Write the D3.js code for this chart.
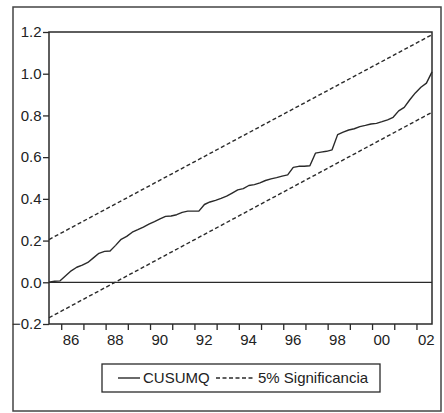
<!DOCTYPE html>
<html><head><meta charset="utf-8">
<script src="https://cdn.jsdelivr.net/npm/d3@7"></script>
<style>html,body{margin:0;padding:0;background:#fff;}svg{display:block;}</style>
</head><body>
<script>
// ---- data ----
const startYear = 1985.45;           // first quarterly observation position
const endYear = 2002.70;             // last observation position
const cusumq = [0.000,0.005,0.007,0.031,0.055,0.072,0.082,0.095,0.117,0.139,
0.148,0.150,0.177,0.206,0.220,0.240,0.252,0.265,0.279,0.291,
0.304,0.316,0.318,0.324,0.335,0.341,0.341,0.341,0.373,0.385,
0.393,0.402,0.413,0.428,0.443,0.449,0.464,0.468,0.477,0.488,
0.496,0.502,0.509,0.515,0.551,0.556,0.556,0.559,0.619,0.624,
0.628,0.635,0.708,0.720,0.730,0.736,0.746,0.752,0.759,0.762,
0.770,0.779,0.791,0.822,0.839,0.875,0.908,0.935,0.955,1.009];
const upperBand = [0.205, 1.187];    // 5% band, start and end
const lowerBand = [-0.170, 0.815];
const yTicks = [-0.2, 0.0, 0.2, 0.4, 0.6, 0.8, 1.0, 1.2];
const yearTicks = [1986,1987,1988,1989,1990,1991,1992,1993,1994,1995,1996,1997,1998,1999,2000,2001,2002];
const yearLabels = ["86","88","90","92","94","96","98","00","02"];
const labelYears = [1986,1988,1990,1992,1994,1996,1998,2000,2002];
const legendItems = ["CUSUMQ", "5% Significancia"];

// ---- layout ----
const W = 444, H = 413;
const svg = d3.select("body").append("svg").attr("width", W).attr("height", H);
const font = "'Liberation Sans', Arial, sans-serif";
const ink = "#2a2a2a";

const x = d3.scaleLinear().domain([startYear, endYear]).range([49, 432]);
const y = d3.scaleLinear().domain([-0.2, 1.2]).range([324, 32]);

// outer frame
svg.append("rect").attr("x", 13).attr("y", 7).attr("width", 428).attr("height", 404)
  .attr("fill", "none").attr("stroke", "#444").attr("stroke-width", 1.5);

const step = (endYear - startYear) / (cusumq.length - 1);
const pts = cusumq.map((v, i) => [startYear + i * step, v]);

// zero line
svg.append("line").attr("x1", x(startYear)).attr("x2", x(endYear))
  .attr("y1", y(0)).attr("y2", y(0)).attr("stroke", ink).attr("stroke-width", 1.3);

const line = d3.line().x(d => x(d[0])).y(d => y(d[1]));
// bands
[upperBand, lowerBand].forEach(b => {
  svg.append("path").attr("d", line([[startYear, b[0]], [endYear, b[1]]]))
    .attr("fill", "none").attr("stroke", ink).attr("stroke-width", 1.4)
    .attr("stroke-dasharray", "4,2.5");
});
// cusumq
svg.append("path").attr("d", line(pts)).attr("fill", "none")
  .attr("stroke", ink).attr("stroke-width", 1.4).attr("stroke-linejoin", "round");

// plot frame
svg.append("rect").attr("x", 49).attr("y", 32).attr("width", 383).attr("height", 292)
  .attr("fill", "none").attr("stroke", ink).attr("stroke-width", 1.5);

// y axis
const yAxis = d3.axisLeft(y).tickValues(yTicks).tickFormat(d3.format(".1f")).tickSize(6).tickSizeOuter(0);
const gy = svg.append("g").attr("transform", "translate(49,0)").call(yAxis);
gy.select(".domain").remove();
gy.selectAll("line").attr("stroke", ink).attr("stroke-width", 1.3);
gy.selectAll("text").attr("font-family", font).attr("font-size", 15).attr("fill", "#222")
  .attr("x", -7.5).text(d => d3.format(".1f")(d));

// x axis
const xAxis = d3.axisBottom(x).tickValues(yearTicks).tickFormat("").tickSize(6).tickSizeOuter(0);
const gx = svg.append("g").attr("transform", "translate(0,324)").call(xAxis);
gx.select(".domain").remove();
gx.selectAll("line").attr("stroke", ink).attr("stroke-width", 1.3);
svg.append("g").selectAll("text").data(labelYears).join("text")
  .attr("x", d => x(d + 0.44)).attr("y", 345)
  .attr("text-anchor", "middle").attr("font-family", font).attr("font-size", 15).attr("fill", "#222")
  .text((d, i) => yearLabels[i]);

// legend
const lg = svg.append("g");
lg.append("rect").attr("x", 102).attr("y", 364).attr("width", 278).attr("height", 28)
  .attr("fill", "none").attr("stroke", ink).attr("stroke-width", 1.3);
lg.append("line").attr("x1", 118).attr("x2", 140).attr("y1", 378).attr("y2", 378)
  .attr("stroke", ink).attr("stroke-width", 1.4);
lg.append("text").attr("x", 143).attr("y", 383).attr("font-family", font).attr("font-size", 15)
  .attr("fill", "#222").text(legendItems[0]);
lg.append("line").attr("x1", 216).attr("x2", 253).attr("y1", 378).attr("y2", 378)
  .attr("stroke", ink).attr("stroke-width", 1.4).attr("stroke-dasharray", "4,2.5");
lg.append("text").attr("x", 258).attr("y", 383).attr("font-family", font).attr("font-size", 15)
  .attr("fill", "#222").text(legendItems[1]);
</script>
</body></html>
